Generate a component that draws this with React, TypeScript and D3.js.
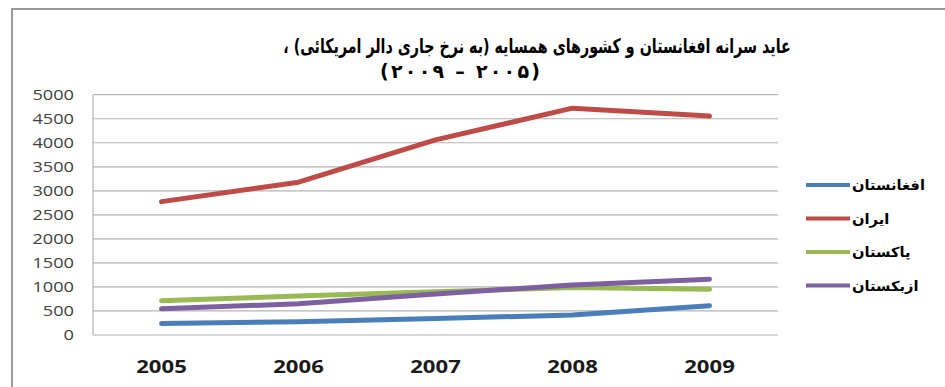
import React from "react";
import * as d3 from "d3";

const years = ["2005", "2006", "2007", "2008", "2009"];
const seriesNames = ["افغانستان", "ایران", "پاکستان", "ازبکستان"];
const afghanistan = [240, 275, 345, 415, 610];
const iran = [2775, 3180, 4060, 4720, 4555];
const pakistan = [715, 810, 900, 990, 950];
const uzbekistan = [545, 650, 855, 1040, 1160];
const colors = ["#4A7EBB", "#BE4B48", "#98B954", "#7D60A0"];
const yTicks = [0, 500, 1000, 1500, 2000, 2500, 3000, 3500, 4000, 4500, 5000];
const titleLine1 = "عاید سرانه افغانستان و کشورهای همسایه (به نرخ جاری دالر امریکائی) ،";
const titleLine2 = "(۲۰۰۵ – ۲۰۰۹)";

const W = 945;
const H = 387;
const SX = 1.3;

export default function App() {
  const data = [afghanistan, iran, pakistan, uzbekistan];
  const x = d3.scaleBand<string>().domain(years).range([93, 778]).padding(0);
  const y = d3.scaleLinear().domain([0, 5000]).range([335, 94.7]);
  const line = d3
    .line<number>()
    .x((_, i) => (x(years[i]) as number) + x.bandwidth() / 2)
    .y((d) => y(d));

  const legendY = d3.scalePoint<string>().domain(seriesNames).range([185, 285.5]);

  return (
    <svg
      width={W}
      height={H}
      style={{ position: "absolute", left: 0, top: 0, background: "#fff" }}
    >
      <rect x={12} y={9} width={W} height={H} fill="#fff" stroke="#9a9a9a" strokeWidth={2} />

      {/* title */}
      <text
        transform={`translate(537,53) scale(0.75,1.05)`}
        textAnchor="middle"
        direction="rtl"
        fontFamily="DejaVu Sans"
        fontWeight="bold"
        fontSize={19}
        fill="#000"
      >
        {titleLine1}
      </text>
      <text
        transform={`translate(460,78)`}
        textAnchor="middle"
        direction="rtl"
        fontFamily="DejaVu Sans"
        fontWeight="bold"
        fontSize={19}
        textLength={160}
        lengthAdjust="spacing"
        fill="#000"
      >
        {titleLine2}
      </text>

      {/* gridlines */}
      {yTicks.map((t) => (
        <line key={t} x1={93} x2={778} y1={y(t)} y2={y(t)} stroke="#b4b4b4" strokeWidth={1.2} />
      ))}
      <line x1={93} x2={93} y1={y(5000)} y2={y(0)} stroke="#b4b4b4" strokeWidth={1.2} />

      {/* y labels */}
      {yTicks.map((t) => (
        <text
          key={t}
          transform={`translate(74,${y(t) + 5}) scale(${SX},1)`}
          textAnchor="end"
          fontFamily="Open Sans"
          fontSize={14}
          fill="#404040"
        >
          {t}
        </text>
      ))}

      {/* x labels */}
      {years.map((yr) => (
        <text
          key={yr}
          transform={`translate(${(x(yr) as number) + x.bandwidth() / 2},373) scale(${SX},1)`}
          textAnchor="middle"
          fontFamily="Open Sans"
          fontWeight="bold"
          fontSize={17}
          fill="#1a1a1a"
        >
          {yr}
        </text>
      ))}

      {/* lines */}
      {data.map((s, i) => (
        <path
          key={i}
          d={line(s) || ""}
          fill="none"
          stroke={colors[i]}
          strokeWidth={5}
          strokeLinecap="round"
          strokeLinejoin="round"
        />
      ))}

      {/* legend */}
      {seriesNames.map((n, i) => {
        const ly = legendY(n) as number;
        return (
          <g key={n}>
            <line x1={806} x2={850} y1={ly} y2={ly} stroke={colors[i]} strokeWidth={4} />
            <text
              transform={`translate(852,${ly + 5}) scale(1.05,1)`}
              textAnchor="start"
              fontFamily="DejaVu Sans"
              fontWeight="bold"
              fontSize={14}
              fill="#000"
            >
              {n}
            </text>
          </g>
        );
      })}
    </svg>
  );
}
